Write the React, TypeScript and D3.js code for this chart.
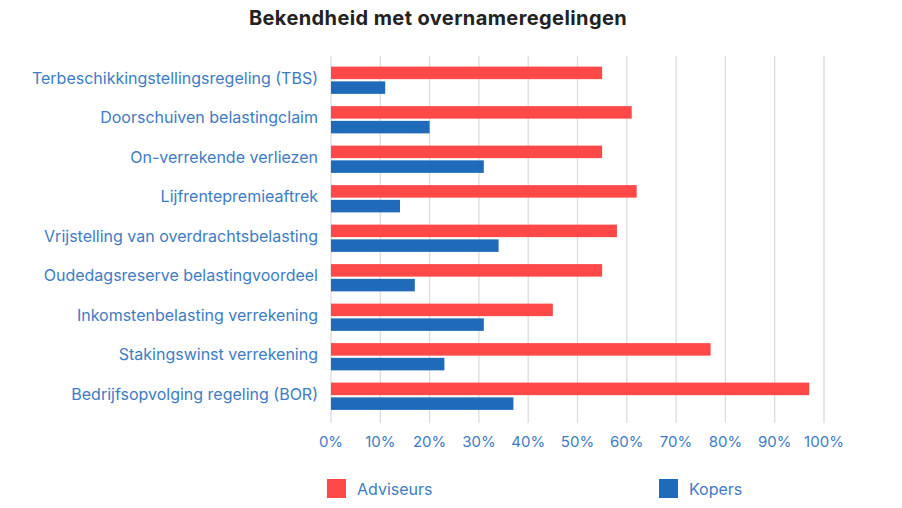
import { useRef, useEffect } from 'react';
import * as d3 from 'd3';

const categories = [
  'Terbeschikkingstellingsregeling (TBS)',
  'Doorschuiven belastingclaim',
  'On-verrekende verliezen',
  'Lijfrentepremieaftrek',
  'Vrijstelling van overdrachtsbelasting',
  'Oudedagsreserve belastingvoordeel',
  'Inkomstenbelasting verrekening',
  'Stakingswinst verrekening',
  'Bedrijfsopvolging regeling (BOR)',
];
const adviseurs = [55, 61, 55, 62, 58, 55, 45, 77, 97];
const kopers = [11, 20, 31, 14, 34, 17, 31, 23, 37];
const seriesNames = ['Adviseurs', 'Kopers'];
const seriesColors = ['#FF4848', '#1F6BBA'];
const xTicks = [0, 10, 20, 30, 40, 50, 60, 70, 80, 90, 100];

export default function App() {
  const svgRef = useRef<SVGSVGElement>(null);

  useEffect(() => {
    if (!svgRef.current) return;
    const svg = d3.select(svgRef.current);
    svg.selectAll('*').remove();

    const width = 902;
    const height = 508;
    const font = 'Inter, "Noto Sans", sans-serif';
    const labelColor = '#3D7CC4';

    const x = d3.scaleLinear().domain([0, 100]).range([331, 824]);
    const y = d3.scaleBand<string>().domain(categories).range([60.5, 416]).paddingInner(0.31).paddingOuter(0.155);
    const sub = d3.scaleBand<string>().domain(seriesNames).range([0, y.bandwidth()]).paddingInner(0.15);

    svg.attr('width', width).attr('height', height);

    // Title
    svg.append('text')
      .attr('x', 438).attr('y', 25)
      .attr('text-anchor', 'middle')
      .attr('fill', '#222')
      .style('font-family', font).style('font-size', '20px').style('font-weight', 700)
      .style('letter-spacing', '0.4px')
      .text('Bekendheid met overnameregelingen');

    // Grid
    svg.append('g')
      .selectAll('line')
      .data(xTicks)
      .join('line')
      .attr('x1', (d) => x(d)).attr('x2', (d) => x(d))
      .attr('y1', 56).attr('y2', 423)
      .attr('stroke', '#dcdcdc').attr('stroke-width', 1.3);

    // Bars
    const rows = svg.append('g')
      .selectAll('g')
      .data(categories)
      .join('g')
      .attr('transform', (d) => `translate(0,${y(d)})`);

    [adviseurs, kopers].forEach((values, si) => {
      rows.append('rect')
        .attr('x', x(0))
        .attr('y', sub(seriesNames[si])!)
        .attr('width', (_, i) => x(values[i]) - x(0))
        .attr('height', sub.bandwidth())
        .attr('fill', seriesColors[si]);
    });

    // Category labels
    svg.append('g')
      .selectAll('text')
      .data(categories)
      .join('text')
      .attr('x', 318)
      .attr('y', (d) => y(d)! + y.bandwidth() / 2 - 2)
      .attr('dy', '0.35em')
      .attr('text-anchor', 'end')
      .attr('fill', labelColor)
      .style('font-family', font).style('font-size', '16px')
      .text((d) => d);

    // X axis labels
    svg.append('g')
      .selectAll('text')
      .data(xTicks)
      .join('text')
      .attr('x', (d) => x(d))
      .attr('y', 442)
      .attr('dy', '0.35em')
      .attr('text-anchor', 'middle')
      .attr('fill', labelColor)
      .style('font-family', font).style('font-size', '15px')
      .text((d) => `${d}%`);

    // Legend
    const legendX = [327, 659];
    seriesNames.forEach((name, i) => {
      const lg = svg.append('g').attr('transform', `translate(${legendX[i]},479)`);
      lg.append('rect').attr('width', 19).attr('height', 19).attr('fill', seriesColors[i]);
      lg.append('text')
        .attr('x', 30).attr('y', 10)
        .attr('dy', '0.35em')
        .attr('fill', labelColor)
        .style('font-family', font).style('font-size', '16px')
        .text(name);
    });
  }, []);

  return <svg ref={svgRef} style={{ position: 'absolute', left: 0, top: 0 }} />;
}
